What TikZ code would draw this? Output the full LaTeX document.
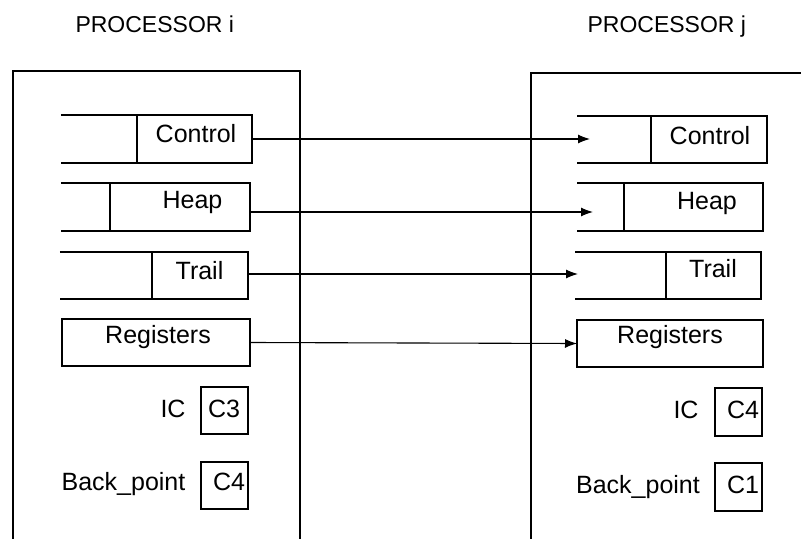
\documentclass[tikz,border=0pt]{standalone}
\usepackage{fontspec}
\setmainfont{Liberation Sans}
\usetikzlibrary{arrows.meta}
\begin{document}
\begin{tikzpicture}[x=1bp,y=-1bp,
  line width=1.1bp,
  lbl/.style={inner sep=0pt, anchor=base, font=\fontsize{25bp}{30bp}\selectfont},
  ttl/.style={inner sep=0pt, anchor=base west, font=\fontsize{23bp}{28bp}\selectfont},
  slot/.style={inner sep=0pt, outer sep=0pt},
  cbox/.style={draw, inner sep=0pt, outer sep=0pt, minimum width=47bp, minimum height=47bp},
  arr/.style={-{Latex[length=12bp,width=9bp]}}]
\useasboundingbox (0,0) rectangle (801,539);

% processor frames
\draw (13,545) -- (13,71) -- (300,71) -- (300,545);
\draw (531,545) -- (531,73) -- (810,73);
\node[ttl] (ti) at (75,33) {PROCESSOR i};
\node[ttl] (tj) at (587,33) {PROCESSOR j};

% left stacks
\node[slot, minimum width=191bp, minimum height=48bp] (lctrl) at (156.5,139) {};
\node[slot, minimum width=189bp, minimum height=48bp] (lheap) at (155.5,207) {};
\node[slot, minimum width=188bp, minimum height=47bp] (ltrail) at (154,275.5) {};
\node[slot, draw, minimum width=188bp, minimum height=47bp] (lreg) at (156,342.5) {};
\foreach \n/\d in {lctrl/137, lheap/110, ltrail/152}{
  \draw (\n.north west) -- (\n.north east) -- (\n.south east) -- (\n.south west);
  \draw (\d,0 |- \n.north) -- (\d,0 |- \n.south);
}
\node[lbl] (lctrlt) at (196,143) {Control};
\node[lbl] (lheapt) at (192.5,209) {Heap};
\node[lbl] (ltrailt) at (199.5,280) {Trail};
\node[lbl] (lregt) at (158,343) {Registers};
\node[cbox] (lic) at (224.5,410.5) {};
\node[cbox] (lbp) at (224.5,485.5) {};
\node[lbl] (licl) at (173,417) {IC};
\node[lbl] (licv) at (224,417) {C3};
\node[lbl] (lbpl) at (123.5,490) {Back\_point};
\node[lbl] (lbpv) at (229,490) {C4};

% right stacks
\node[slot, minimum width=190bp, minimum height=47bp] (rctrl) at (672,139.5) {};
\node[slot, minimum width=186bp, minimum height=48bp] (rheap) at (670,207) {};
\node[slot, minimum width=186bp, minimum height=47bp] (rtrail) at (668,275.5) {};
\node[slot, draw, minimum width=186bp, minimum height=47bp] (rreg) at (670,343.5) {};
\foreach \n/\d in {rctrl/651, rheap/624, rtrail/666}{
  \draw (\n.north west) -- (\n.north east) -- (\n.south east) -- (\n.south west);
  \draw (\d,0 |- \n.north) -- (\d,0 |- \n.south);
}
\node[lbl] (rctrlt) at (710,145) {Control};
\node[lbl] (rheapt) at (707,210) {Heap};
\node[lbl] (rtrailt) at (713,278) {Trail};
\node[lbl] (rregt) at (670,343) {Registers};
\node[cbox, minimum height=48bp] (ric) at (738.5,412) {};
\node[cbox, minimum height=48bp] (rbp) at (738.5,487) {};
\node[lbl] (ricl) at (686,418) {IC};
\node[lbl] (ricv) at (743,418) {C4};
\node[lbl] (rbpl) at (638,493) {Back\_point};
\node[lbl] (rbpv) at (743,493) {C1};

% arrow targets
\coordinate (c1) at (590,139);
\coordinate (c2) at (593,212);
\coordinate (c3) at (578,274);

\draw[arr] (lctrl.east |- c1) -- (c1);
\draw[arr] (lheap.east |- c2) -- (c2);
\draw[arr] (ltrail.east |- c3) -- (c3);
\draw[arr] (lreg.east) -- (rreg.west);
\end{tikzpicture}
\end{document}
